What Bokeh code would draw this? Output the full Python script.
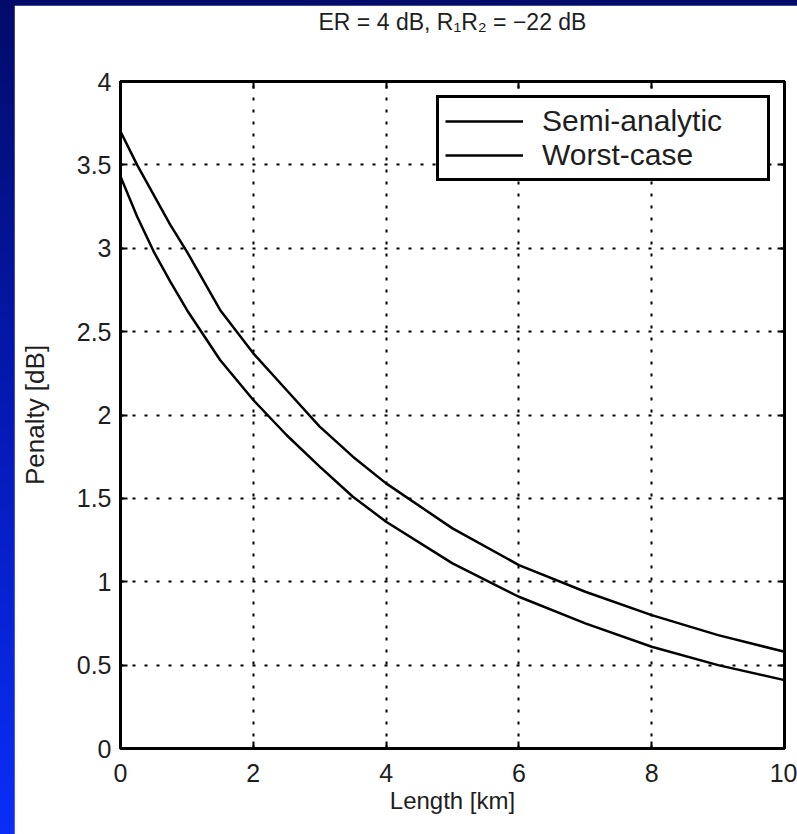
from bokeh.plotting import figure
from bokeh.models import (LinearAxis, Legend, LegendItem, FixedTicker,
                          GlobalInlineStyleSheet, Range1d)
from bokeh.embed import file_html
from bokeh.resources import INLINE

# ---- data ----
length_km = [0, 0.25, 0.5, 0.75, 1, 1.5, 2, 2.5, 3, 3.5, 4, 5, 6, 7, 8, 9, 10]
semi_analytic = [3.43, 3.19, 2.98, 2.80, 2.63, 2.33, 2.09, 1.88, 1.69, 1.51,
                 1.36, 1.11, 0.91, 0.75, 0.61, 0.50, 0.41]
worst_case = [3.70, 3.50, 3.32, 3.14, 2.98, 2.63, 2.37, 2.15, 1.93, 1.75,
              1.59, 1.32, 1.10, 0.94, 0.80, 0.68, 0.58]
series_names = ["Semi-analytic", "Worst-case"]
x_ticks = [0, 2, 4, 6, 8, 10]
y_ticks = [0, 0.5, 1, 1.5, 2, 2.5, 3, 3.5, 4]
y_tick_labels = ["0", "0.5", "1", "1.5", "2", "2.5", "3", "3.5", "4"]
title_text = "ER = 4 dB, R\u2081R\u2082 = \u221222 dB"
x_label = "Length [km]"
y_label = "Penalty [dB]"

FONT = "Liberation Sans"
TXT = "#1e1e1e"

p = figure(width=783, height=829, output_backend="svg", toolbar_location=None,
           x_range=Range1d(0, 10), y_range=Range1d(0, 4),
           min_border_left=106, min_border_right=13, min_border_top=75,
           min_border_bottom=86, background_fill_color="white",
           border_fill_color="white", x_axis_label=x_label, y_axis_label=y_label)
p.styles = {"margin-left": "14px", "margin-top": "5px"}
p.stylesheets = [GlobalInlineStyleSheet(css=(
    "html { background: linear-gradient(to bottom, #010b69 0%, #0519b5 50%, #0a2ef8 100%);"
    " background-attachment: fixed; overflow: hidden; }"))]

p.outline_line_color = "black"
p.outline_line_width = 3
p.outline_line_alpha = 1

xt = FixedTicker(ticks=x_ticks)
yt = FixedTicker(ticks=y_ticks)
p.xaxis.ticker = xt
p.yaxis.ticker = yt
p.yaxis.major_label_overrides = {v: s for v, s in zip(y_ticks, y_tick_labels)}

for ax in (p.xaxis[0], p.yaxis[0]):
    ax.axis_line_width = 3
    ax.axis_line_color = "black"
    ax.major_tick_in = 7
    ax.major_tick_out = 0
    ax.major_tick_line_width = 2
    ax.minor_tick_line_color = None
    ax.major_label_text_font = FONT
    ax.major_label_text_font_size = "25px"
    ax.major_label_text_color = TXT
    ax.axis_label_text_font = FONT
    ax.axis_label_text_font_style = "normal"
    ax.axis_label_text_color = TXT
p.xaxis.axis_label_text_font_size = "24px"
p.yaxis.axis_label_text_font_size = "26px"
p.xaxis.major_label_standoff = 15
p.yaxis.major_label_standoff = 9
p.xaxis.axis_label_standoff = 2
p.yaxis.axis_label_standoff = 24

# top axis carries the chart title as its label; right axis is a plain tick box side
top_ax = LinearAxis(ticker=xt, axis_line_width=3, major_tick_in=7, major_tick_out=0,
                    major_tick_line_width=2, minor_tick_line_color=None,
                    major_label_text_color=None, major_label_text_font_size="8px",
                    major_label_standoff=0, axis_label=title_text,
                    axis_label_text_font=FONT, axis_label_text_font_size="23px",
                    axis_label_text_font_style="normal", axis_label_text_color=TXT,
                    axis_label_standoff=47)
p.add_layout(top_ax, "above")
right_ax = LinearAxis(ticker=yt, axis_line_width=3, major_tick_in=7, major_tick_out=0,
                      major_tick_line_width=2, minor_tick_line_color=None,
                      major_label_text_color=None, major_label_text_font_size="8px",
                      major_label_standoff=0)
p.add_layout(right_ax, "right")

p.grid.ticker = None
p.xgrid.ticker = xt
p.ygrid.ticker = yt
p.grid.grid_line_color = "black"
p.grid.grid_line_width = 2
p.grid.grid_line_dash = "3 9"
p.grid.grid_line_alpha = 1

r1 = p.line(length_km, semi_analytic, line_color="black", line_width=2.5)
r2 = p.line(length_km, worst_case, line_color="black", line_width=2.5)

legend = Legend(items=[LegendItem(label=series_names[0], renderers=[r1]),
                       LegendItem(label=series_names[1], renderers=[r2])],
                location="top_right", margin=14, padding=6, spacing=0,
                glyph_width=78, glyph_height=34, label_standoff=19,
                label_width=219, label_height=34,
                label_text_font=FONT, label_text_font_size="30px",
                label_text_color=TXT,
                border_line_color="black", border_line_width=3, border_line_alpha=1,
                background_fill_color="white", background_fill_alpha=1)
p.add_layout(legend)

open("out.html", "w").write(file_html(p, INLINE))
